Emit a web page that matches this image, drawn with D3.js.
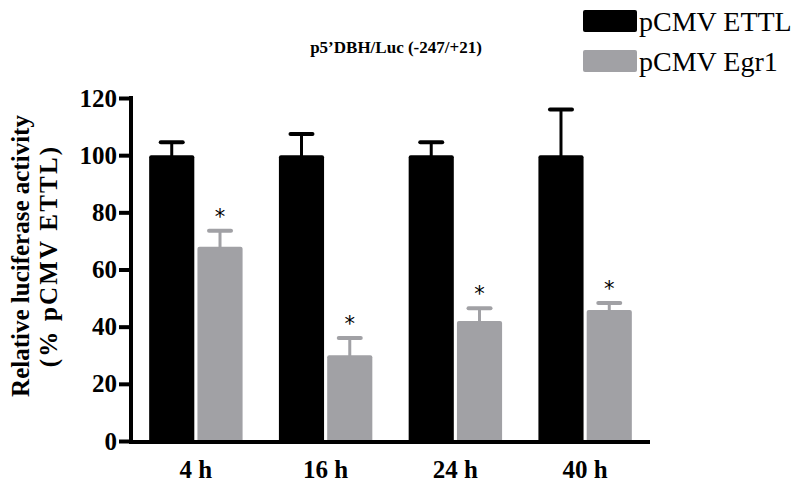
<!DOCTYPE html>
<html>
<head>
<meta charset="utf-8">
<script src="https://cdn.jsdelivr.net/npm/d3@7"></script>
<style>
  html, body { margin: 0; padding: 0; background: #fff; }
  svg { display: block; }
  text { font-family: "Liberation Serif", "Times New Roman", serif; }
</style>
</head>
<body>
<svg id="chart" width="800" height="491"></svg>
<script>
// ---- Data ----
const categories = ["4 h", "16 h", "24 h", "40 h"];
const seriesNames = ["pCMV ETTL", "pCMV Egr1"];
const ettlValues = [100, 100, 100, 100];
const ettlErrors = [4.5, 7.4, 4.5, 16];
const egr1Values = [68, 30, 42, 45.8];
const egr1Errors = [5.6, 6, 4.4, 2.5];
const significant = [true, true, true, true];
const yTicks = [0, 20, 40, 60, 80, 100, 120];
const titleText = "p5\u2019DBH/Luc (-247/+21)";
const yLabelLines = ["Relative luciferase activity", "(% pCMV ETTL)"];

const colors = ["#000000", "#a1a1a5"];

const rows = categories.map((c, i) => ({
  cat: c,
  bars: [
    { s: seriesNames[0], v: ettlValues[i], e: ettlErrors[i], sig: false },
    { s: seriesNames[1], v: egr1Values[i], e: egr1Errors[i], sig: significant[i] }
  ]
}));

const svg = d3.select("#chart");

const y = d3.scaleLinear().domain([0, 120]).range([441, 98]);
const x0 = d3.scaleBand().domain(categories).range([131, 650])
  .paddingInner(0.28).paddingOuter(0.14);
const x1 = d3.scaleBand().domain(seriesNames).range([0, x0.bandwidth()])
  .paddingInner(0.065);
const color = d3.scaleOrdinal().domain(seriesNames).range(colors);

// bars
const g = svg.append("g");
const groups = g.selectAll("g.grp").data(rows).join("g")
  .attr("class", "grp")
  .attr("transform", d => `translate(${x0(d.cat)},0)`);

groups.selectAll("rect").data(d => d.bars).join("rect")
  .attr("x", d => x1(d.s))
  .attr("width", x1.bandwidth())
  .attr("y", d => y(d.v))
  .attr("height", d => y(0) - y(d.v) + 2)
  .attr("rx", 2)
  .attr("fill", d => color(d.s));

// error bars
const capW = 22;
groups.selectAll("line.stem").data(d => d.bars).join("line")
  .attr("class", "stem")
  .attr("x1", d => x1(d.s) + x1.bandwidth() / 2)
  .attr("x2", d => x1(d.s) + x1.bandwidth() / 2)
  .attr("y1", d => y(d.v) + 1)
  .attr("y2", d => y(d.v + d.e))
  .attr("stroke", d => color(d.s))
  .attr("stroke-width", 3);
groups.selectAll("line.cap").data(d => d.bars).join("line")
  .attr("class", "cap")
  .attr("x1", d => x1(d.s) + x1.bandwidth() / 2 - capW / 2)
  .attr("x2", d => x1(d.s) + x1.bandwidth() / 2 + capW / 2)
  .attr("y1", d => y(d.v + d.e))
  .attr("y2", d => y(d.v + d.e))
  .attr("stroke", d => color(d.s))
  .attr("stroke-width", 4)
  .attr("stroke-linecap", "round");

// asterisks
groups.selectAll("text.sig").data(d => d.bars.filter(b => b.sig)).join("text")
  .attr("class", "sig")
  .attr("x", d => x1(d.s) + x1.bandwidth() / 2)
  .attr("y", d => y(d.v + d.e) - 7)
  .attr("text-anchor", "middle")
  .style("font-family", "'DejaVu Sans', sans-serif")
  .style("font-size", "21px")
  .attr("fill", "#000")
  .text("*");

// y axis
const yAxis = svg.append("g")
  .attr("transform", "translate(131,0)")
  .call(d3.axisLeft(y).tickValues(yTicks).tickSize(12).tickSizeOuter(0).tickPadding(2));
yAxis.select(".domain").attr("stroke", "#000").attr("stroke-width", 4)
  .attr("d", `M0,${y(120) - 2}V${y(0) + 2}`);
yAxis.selectAll(".tick line").attr("stroke", "#000").attr("stroke-width", 4);
yAxis.selectAll(".tick text")
  .style("font-family", "'Liberation Serif', serif")
  .style("font-weight", "bold")
  .style("font-size", "25px")
  .attr("fill", "#000");

// x axis
const xAxis = svg.append("g")
  .attr("transform", `translate(0,${y(0) + 1})`)
  .call(d3.axisBottom(x0).tickSize(0).tickSizeOuter(0).tickPadding(18));
xAxis.select(".domain").attr("stroke", "#000").attr("stroke-width", 4)
  .attr("d", `M129,0H650`);
xAxis.selectAll(".tick text")
  .style("font-family", "'Liberation Serif', serif")
  .style("font-weight", "bold")
  .style("font-size", "25px")
  .attr("fill", "#000");

// title
svg.append("text")
  .attr("x", 396).attr("y", 53)
  .attr("text-anchor", "middle")
  .style("font-weight", "bold")
  .style("font-size", "17px")
  .text(titleText);

// y label
const yl = svg.append("text")
  .attr("transform", "translate(0,256) rotate(-90)")
  .attr("text-anchor", "middle")
  .style("font-weight", "bold")
  .style("font-size", "25px");
yl.append("tspan").attr("x", 0).attr("y", 29).text(yLabelLines[0]);
yl.append("tspan").attr("x", 0).attr("y", 57)
  .style("letter-spacing", "2.2px").text(yLabelLines[1]);

// legend
const lg = svg.append("g").selectAll("g").data(seriesNames).join("g")
  .attr("transform", (d, i) => `translate(583,${10 + i * 40})`);
lg.append("rect").attr("width", 54).attr("height", 22).attr("rx", 2)
  .attr("fill", d => color(d));
lg.append("text").attr("x", 56).attr("y", 21)
  .style("font-size", "28px")
  .attr("fill", "#000")
  .text(d => d);
</script>
</body>
</html>
